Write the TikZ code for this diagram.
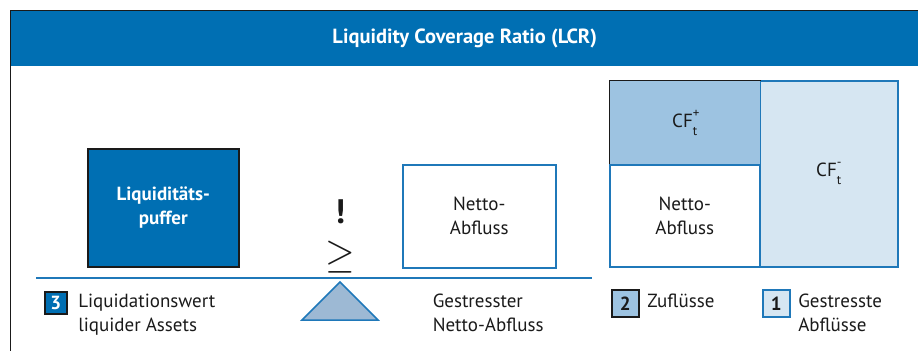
\documentclass[tikz,border=0pt]{standalone}
\usepackage{fontspec}
\setmainfont{PT Sans}
\usepackage{amsmath}
\usepackage{tikz}
\usetikzlibrary{calc,arrows.meta,positioning}
\definecolor{lcr-blue}{HTML}{006FB3}
\definecolor{lcr-dark}{HTML}{1A1A1A}
\definecolor{lcr-line}{HTML}{1F78B9}
\definecolor{lcr-mid}{HTML}{9DC3E1}
\definecolor{lcr-light}{HTML}{D6E6F2}
\definecolor{lcr-tri}{HTML}{9DB9D4}
\newcommand{\cflab}[1]{CF\rlap{\raisebox{10pt}{\fontsize{13}{13}\selectfont #1}}\raisebox{-8pt}{\fontsize{13}{13}\selectfont t}}

\begin{document}
\begin{tikzpicture}[x=1pt, y=-1pt, line width=1.5pt, >=stealth,
    every node/.style={font=\fontsize{19}{24}\selectfont, text=lcr-dark, align=center, inner sep=0pt},
    numbox/.style={draw, minimum width=27pt, minimum height=27pt, font=\fontsize{19}{24}\selectfont\bfseries}]
    \useasboundingbox (0,0) rectangle (918,351);
    % header
    \node[fill=lcr-blue, anchor=north west, minimum width=908pt, minimum height=55pt,
          text=white, font=\fontsize{20.5}{24}\selectfont\bfseries] (head) at (10,10) {Liquidity Coverage Ratio (LCR)};
    \draw[lcr-dark, line width=1pt] (head.north east) -- (head.north west) -- (10,351);
    % balance
    \node[draw=lcr-dark, fill=lcr-blue, anchor=north west, minimum width=151pt, minimum height=118pt,
          text=white, font=\fontsize{19}{24}\selectfont\bfseries] (puffer) at (87,148) {Liquiditäts-\\puffer};
    \node[draw=lcr-line, anchor=north west, minimum width=153pt, minimum height=103pt] (netto) at (402,164) {Netto-\\Abfluss};
    \node (ge) at (340,257) {\scalebox{2.2}[2.4]{$\geq$}};
    \node[font=\fontsize{34}{34}\selectfont\bfseries] (must) at (340,212) {!};
    \coordinate (lineL) at (36,278);
    \coordinate (lineR) at (592,278);
    \draw[lcr-line] (lineL) -- (lineR);
    \coordinate (apex) at (340,282);
    \draw[lcr-line, fill=lcr-tri] (apex) -- (302,320) -- (378,320) -- cycle;
    % cash flows
    \node[draw=lcr-line, fill=lcr-light, anchor=north west, minimum width=138pt, minimum height=186pt] (cfout) at (759,80) {\cflab{-}};
    \node[fill=lcr-mid, anchor=north west, minimum width=150pt, minimum height=84pt] (cfin) at (609,80) {\cflab{+}};
    \draw[lcr-dark, line width=1pt] (cfin.south west) -- (cfin.north west) -- (cfin.north east);
    \node[draw=lcr-line, fill=white, anchor=north west, minimum width=150pt, minimum height=102pt] (nettoR) at (609,164) {Netto-\\Abfluss};
    % legend
    \node[numbox, draw=lcr-dark, fill=lcr-blue, text=white, minimum width=22pt, minimum height=22pt, anchor=north west] (n3) at (44,291) {3};
    \node[right=10pt of n3.north east, anchor=north west, align=left, yshift=-2pt] (t3) {Liquidationswert\\liquider Assets};
    \node[anchor=north west, align=left] (t0) at (432,293) {Gestresster\\Netto-Abfluss};
    \node[numbox, draw=lcr-dark, fill=lcr-mid, anchor=north west] (n2) at (611,289) {2};
    \node[right=7pt of n2.north east, anchor=north west, align=left, yshift=-4pt] (t2) {Zuflüsse};
    \node[numbox, draw=lcr-line, fill=lcr-light, anchor=north west] (n1) at (762,289) {1};
    \node[right=7pt of n1.north east, anchor=north west, align=left, yshift=-4pt] (t1) {Gestresste\\Abflüsse};
\end{tikzpicture}
\end{document}
